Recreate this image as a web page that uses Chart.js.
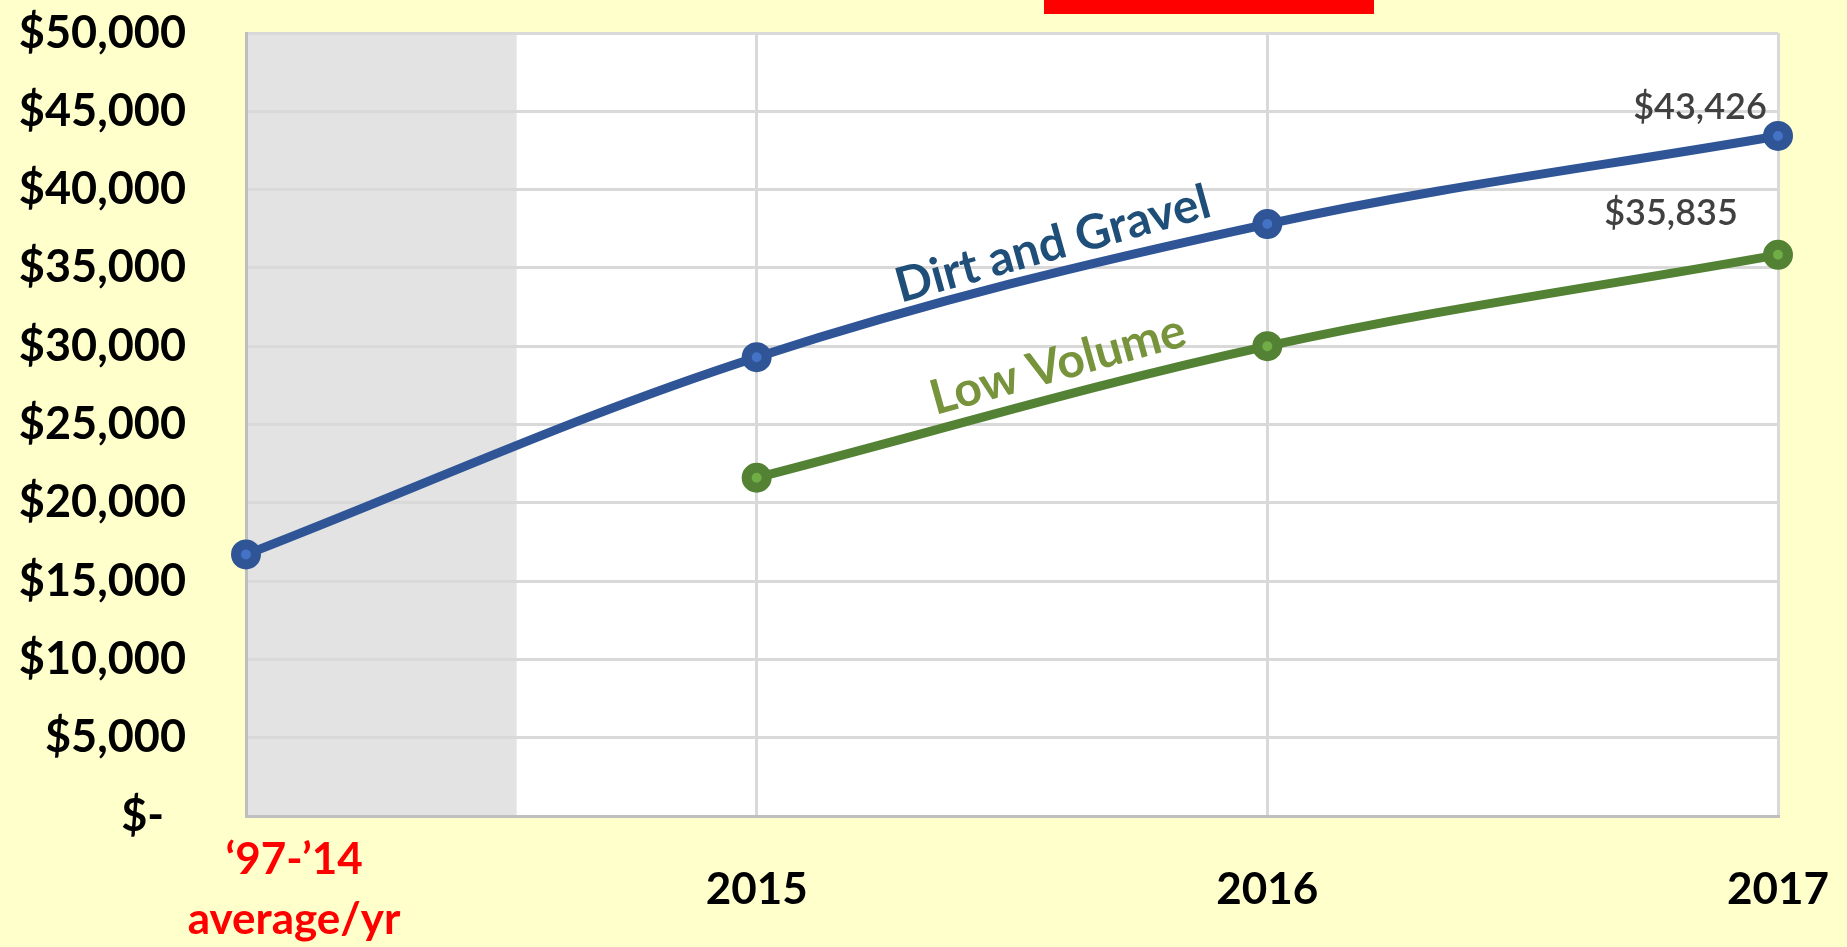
<!DOCTYPE html>
<html>
<head>
<meta charset="utf-8">
<script src="https://cdn.jsdelivr.net/npm/chart.js@4.4.1/dist/chart.umd.min.js"></script>
<style>
  html, body { margin: 0; padding: 0; background: #FFFFCC; overflow: hidden; }
  #wrap { position: relative; width: 1847px; height: 947px; }
  #redbar { position: absolute; left: 1044px; top: 0; width: 330px; height: 14px; background: #FF0000; }
</style>
</head>
<body>
<div id="wrap">
  <canvas id="chart" width="1847" height="947"></canvas>
  <div id="redbar"></div>
</div>
<script>
// ── Data ───────────────────────────────────────────────
const categories   = [['\u201897-\u201914', 'average/yr'], '2015', '2016', '2017'];
const dirtGravel   = [16700, 29300, 37800, 43426];
const lowVolume    = [null, 21600, 30000, 35835];
const yTicks       = [0, 5000, 10000, 15000, 20000, 25000, 30000, 35000, 40000, 45000, 50000];

const FONT = 'Lato, "Open Sans", "DejaVu Sans", sans-serif';
const money = v => v === 0 ? '$-' : '$' + v.toLocaleString('en-US');

// ── Backgrounds: white plot, grey shade over the historic average ──
const backdrop = {
  id: 'backdrop',
  beforeDraw(chart) {
    const { ctx, chartArea: a, scales: { x } } = chart;
    ctx.save();
    ctx.fillStyle = '#FFFFCC';
    ctx.fillRect(0, 0, chart.width, chart.height);
    ctx.fillStyle = '#FFFFFF';
    ctx.fillRect(a.left, a.top, a.right - a.left, a.bottom - a.top);
    ctx.fillStyle = '#E3E3E3';
    const shadeEnd = x.getPixelForValue(0.53);
    ctx.fillRect(a.left, a.top, shadeEnd - a.left, a.bottom - a.top);
    ctx.restore();
  }
};

// ── Series names along the lines + end-point value labels ──
const labels = {
  id: 'labels',
  afterDatasetsDraw(chart) {
    const { ctx, scales: { x, y } } = chart;
    ctx.save();
    ctx.textAlign = 'center';
    ctx.textBaseline = 'middle';

    const names = [
      { text: 'Dirt and Gravel', xi: 1.58, yv: 36500, color: '#1F4E79' },
      { text: 'Low Volume',      xi: 1.59, yv: 28800, color: '#77933C' }
    ];
    names.forEach(n => {
      ctx.save();
      ctx.translate(x.getPixelForValue(n.xi), y.getPixelForValue(n.yv));
      ctx.rotate(-15.5 * Math.PI / 180);
      ctx.font = 'bold 48px ' + FONT;
      ctx.fillStyle = n.color;
      ctx.fillText(n.text, 0, 0);
      ctx.restore();
    });

    // value labels on the 2017 points
    const offsets = [[-78, -29], [-107, -41]];
    ctx.font = '600 36px ' + FONT;
    ctx.fillStyle = '#404040';
    chart.data.datasets.forEach((ds, i) => {
      const meta = chart.getDatasetMeta(i);
      const last = ds.data.length - 1;
      const pt = meta.data[last];
      ctx.fillText(money(ds.data[last]), pt.x + offsets[i][0], pt.y + offsets[i][1]);
    });
    ctx.restore();
  }
};

new Chart(document.getElementById('chart').getContext('2d'), {
  type: 'line',
  data: {
    labels: categories,
    datasets: [
      {
        label: 'Dirt and Gravel',
        data: dirtGravel,
        borderColor: '#2F5597',
        borderWidth: 9,
        tension: 0.35,
        pointRadius: 10,
        pointBorderWidth: 10,
        pointBackgroundColor: '#4472C4',
        pointBorderColor: '#2F5597'
      },
      {
        label: 'Low Volume',
        data: lowVolume,
        borderColor: '#548235',
        borderWidth: 9,
        tension: 0.35,
        pointRadius: 10,
        pointBorderWidth: 10,
        pointBackgroundColor: '#70AD47',
        pointBorderColor: '#548235'
      }
    ]
  },
  options: {
    responsive: false,
    animation: false,
    layout: { autoPadding: false, padding: { top: 33, right: 69, left: 0, bottom: 0 } },
    plugins: { legend: { display: false }, tooltip: { enabled: false } },
    scales: {
      x: {
        offset: false,
        // invisible tick marks give the label gap without padding the chart area
        grid: { color: '#D9D9D9', lineWidth: 3, drawTicks: true, tickLength: 39, tickColor: 'rgba(0,0,0,0)' },
        border: { color: '#BFBFBF', width: 3 },
        ticks: {
          padding: 5,
          crossAlign: 'center',
          maxRotation: 0,
          autoSkip: false,
          font: { family: FONT, size: 44, weight: 'bold', lineHeight: 1.36 },
          color: ctx => ctx.index === 0 ? '#FF0000' : '#000000',
          // first label sits a little right of its tick, as in the original
          callback(v, i) {
            const lbl = this.getLabelForValue(v);
            return i === 0 ? categories[0].map(s => ' '.repeat(9) + s) : lbl;
          }
        },
        afterFit(scale) { scale.height = 131; }
      },
      y: {
        min: 0,
        max: 50000,
        afterBuildTicks(scale) { scale.ticks = yTicks.map(v => ({ value: v })); },
        grid: { color: '#D9D9D9', lineWidth: 3, drawTicks: true, tickLength: 55, tickColor: 'rgba(0,0,0,0)' },
        border: { color: '#BFBFBF', width: 3 },
        ticks: {
          padding: 5,
          font: { family: FONT, size: 45, weight: 'bold' },
          color: '#000000',
          callback: v => v === 0 ? money(v) + '  ' : money(v)
        },
        afterFit(scale) { scale.width = 246; }
      }
    }
  },
  plugins: [backdrop, labels]
});
</script>
</body>
</html>
